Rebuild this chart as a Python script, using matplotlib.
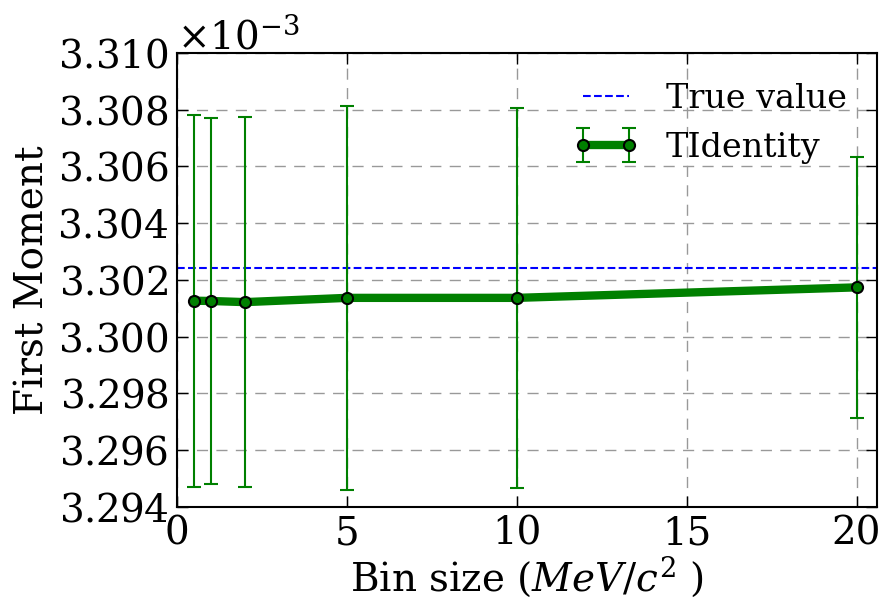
import numpy as np
import matplotlib
matplotlib.use("Agg")
import matplotlib.pyplot as plt

plt.rcParams['font.family'] = 'DejaVu Serif'
plt.rcParams['mathtext.fontset'] = 'dejavuserif'

# bin sizes in MeV/c^2 and the first moment estimated for each
bin_sizes = [0.5, 1, 2, 5, 10, 20]
first_moment = [3.30127e-3, 3.30126e-3, 3.30122e-3, 3.30137e-3, 3.30137e-3, 3.30174e-3]
moment_err = [0.00656e-3, 0.00645e-3, 0.00652e-3, 0.00677e-3, 0.00670e-3, 0.00460e-3]
true_value = 3.30242e-3

fig = plt.figure(figsize=(8.84, 6), dpi=100)
ax = fig.add_axes([0.2002, 0.155, 0.7918, 0.7567])

ax.axhline(true_value, color='blue', linestyle='--', linewidth=1.5, label='True value')
ax.errorbar(bin_sizes, first_moment, yerr=moment_err, color='green', linewidth=6,
            elinewidth=1.5, capsize=5, capthick=1.5, marker='o', markersize=8,
            markerfacecolor='green', markeredgecolor='black', markeredgewidth=1.5,
            label='TIdentity')

ax.set_xlim(0, 20.6)
ax.set_ylim(3.294e-3, 3.310e-3)
ax.set_xticks([0, 5, 10, 15, 20])
ax.set_yticks(np.arange(3.294e-3, 3.3101e-3, 0.002e-3))
ax.ticklabel_format(axis='y', style='sci', scilimits=(-3, -3), useMathText=True)
ax.yaxis.get_major_formatter().set_useOffset(False)
ax.yaxis.get_offset_text().set_fontsize(28)

ax.tick_params(direction='in', length=8, width=1, top=True, right=True, labelsize=28, pad=6)
ax.grid(True, color='#999999', linestyle='--', linewidth=1, dashes=(8, 6))
for s in ax.spines.values():
    s.set_linewidth(1.5)

ax.set_xlabel(r'Bin size ($MeV/c^2$ )', fontsize=28, labelpad=2)
ax.set_ylabel('First Moment', fontsize=28, labelpad=4)
ax.legend(loc='upper right', frameon=False, fontsize=24, handlelength=2, numpoints=2)

fig.savefig('out.png', dpi=100)
